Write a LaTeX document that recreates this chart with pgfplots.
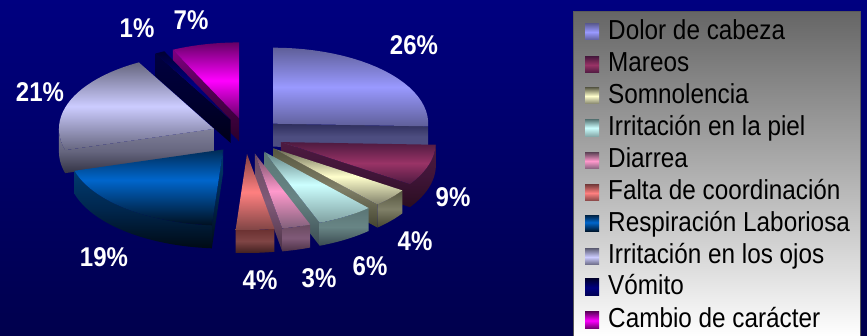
\documentclass[border=0pt]{standalone}
\usepackage{fontspec}
\setmainfont{Liberation Sans}
\usepackage{graphicx}
\usepackage{pgfplots}
\usepackage{pgfplotstable}
\pgfplotsset{compat=1.18}

% Shares of the exploded pie, clockwise from twelve o'clock
\pgfplotstableread{
share
26
9
4
6
3
4
19
21
1
7
}\sharetable

% Projection of the pie: centre, explosion, radii and wall height (px)
\def\Cx{247}\def\Cy{136}\def\Ex{36}\def\Ey{18}
\def\Ra{155}\def\Rb{76}\def\Depth{23}
\def\nsteps{24}
% Slight foreshortening of the angles towards the front of the view (degrees)
\def\Warp{3}

% Vertical shading: top, middle, bottom colour and position of the middle
\newcommand\tri[5]{%
  \definecolor{#1a}{HTML}{#2}\definecolor{#1b}{HTML}{#3}\definecolor{#1c}{HTML}{#4}%
  \pgfdeclareverticalshading{#1}{100bp}{color(0bp)=(#1c); color(25bp)=(#1c); color(#5bp)=(#1b); color(75bp)=(#1a); color(100bp)=(#1a)}}

\tri{top1}{5F5F99}{9999FF}{5F5F99}{50}
\tri{top2}{4D1A40}{993366}{4D1A40}{50}
\tri{top3}{666650}{FFFFCC}{80806A}{50}
\tri{top4}{5F7F7F}{CCFFFF}{7FA0A0}{52}
\tri{top5}{6B4A60}{FF99CC}{80607A}{50}
\tri{top6}{804040}{FF8080}{804545}{50}
\tri{top7}{002B55}{0066CC}{001020}{55}
\tri{top8}{66667F}{CCCCFF}{66667F}{50}
\tri{top9}{000033}{000080}{000050}{50}
\tri{top10}{660066}{FF00FF}{660066}{50}

\tri{side1}{2E2E5C}{4D4D80}{4D4D80}{50}
\tri{side2}{4D1A40}{401538}{2A0D20}{50}
\tri{side3}{55553F}{808068}{444430}{50}
\tri{side4}{5A7575}{688585}{3A4A50}{50}
\tri{side5}{6A4A60}{805A78}{4A3045}{50}
\tri{side6}{6A3030}{804545}{402020}{50}
\tri{side7}{003B70}{00264D}{000A14}{50}
\tri{side8}{80809A}{66667F}{333344}{50}
\tri{side9}{000040}{000030}{000018}{50}
\tri{side10}{800080}{4D004D}{2A002A}{50}

\tri{legendback}{666666}{B0B0B0}{FFFFFF}{50}
\definecolor{backtop}{HTML}{000080}
\definecolor{backbottom}{HTML}{00004D}

% Cumulative start and finish of every slice, in percent
\def\Cum{0}
\newcommand\defslice[1]{%
  \pgfmathtruncatemacro\rowidx{#1-1}%
  \pgfplotstablegetelem{\rowidx}{share}\of\sharetable
  \expandafter\xdef\csname s#1\endcsname{\Cum}%
  \pgfmathsetmacro\newcum{\Cum+\pgfplotsretval}%
  \xdef\Cum{\newcum}%
  \expandafter\xdef\csname f#1\endcsname{\Cum}}

\newcommand\startang[1]{(\csname s#1\endcsname*3.6-\Warp*(sin(\csname s#1\endcsname*1.8))^2)}
\newcommand\finishang[1]{(\csname f#1\endcsname*3.6-\Warp*(sin(\csname f#1\endcsname*1.8))^2)}

% Tip of slice #1 after the explosion along its bisector
\newcommand\apex[1]{%
  \pgfmathsetmacro\midang{(\csname s#1\endcsname+\csname f#1\endcsname)*1.8}%
  \pgfmathsetmacro\ax{\Cx+\Ex*sin(\midang)}%
  \pgfmathsetmacro\ay{\Cy-\Ey*cos(\midang)}%
  \xdef\ax{\ax}\xdef\ay{\ay}}

% Appends an arc from angle #1 to #2, lowered by #3, to the point list
\newcommand\rim[3]{%
  \pgfmathsetmacro\angA{#1}\pgfmathsetmacro\angB{#2}%
  \foreach \stp in {0,...,\nsteps}{%
    \pgfmathsetmacro\ang{\angA+(\angB-\angA)*\stp/\nsteps}%
    \pgfmathsetmacro\px{\ax+\Ra*sin(\ang)}%
    \pgfmathsetmacro\py{\ay-\Rb*cos(\ang)+#3}%
    \xdef\pts{\pts (\px,\py)}}}

\newcommand\flushpoly[1]{%
  \edef\doplot{\noexpand\addplot[draw=none,shade,shading=#1] coordinates {\pts};}\doplot}

% Upper face of slice #1
\newcommand\topface[1]{%
  \apex{#1}\xdef\pts{(\ax,\ay)}%
  \rim{\startang{#1}}{\finishang{#1}}{0}%
  \xdef\pts{\pts (\ax,\ay)}\flushpoly{top#1}}

% Cut wall of slice #1 along the edge at angle #2
\newcommand\radialwall[2]{%
  \apex{#1}\pgfmathsetmacro\wa{#2}%
  \pgfmathsetmacro\wx{\ax+\Ra*sin(\wa)}\pgfmathsetmacro\wy{\ay-\Rb*cos(\wa)}%
  \pgfmathsetmacro\wz{\wy+\Depth}\pgfmathsetmacro\az{\ay+\Depth}%
  \xdef\pts{(\ax,\ay) (\wx,\wy) (\wx,\wz) (\ax,\az) (\ax,\ay)}\flushpoly{side#1}}

% Curved outer wall of slice #1, limited to the part facing the viewer
\newcommand\curvedwall[1]{%
  \apex{#1}%
  \pgfmathsetmacro\lo{max(\startang{#1},90)}\pgfmathsetmacro\hi{min(\finishang{#1},270)}%
  \xdef\pts{}\rim{\lo}{\hi}{0}\rim{\hi}{\lo}{\Depth}\flushpoly{side#1}}

% Text set slightly taller than wide
\newcommand\tall[1]{\scalebox{1}[1.13]{#1}}

\begin{document}
\begin{tikzpicture}
\defslice{1}\defslice{2}\defslice{3}\defslice{4}\defslice{5}
\defslice{6}\defslice{7}\defslice{8}\defslice{9}\defslice{10}
\begin{axis}[
  scale only axis, width=867pt, height=336pt,
  xmin=0, xmax=867, ymin=0, ymax=336, y dir=reverse,
  axis lines=none, no markers,
  axis background/.style={top color=backtop, bottom color=backbottom},
]
% back slices first so the front ones overlap them
\radialwall{10}{\startang{10}}\topface{10}
\radialwall{9}{\startang{9}}\topface{9}
\radialwall{1}{\finishang{1}}\curvedwall{1}\topface{1}
\radialwall{8}{\startang{8}}\curvedwall{8}\topface{8}
\radialwall{2}{\finishang{2}}\curvedwall{2}\topface{2}
\radialwall{3}{\finishang{3}}\curvedwall{3}\topface{3}
\radialwall{4}{\finishang{4}}\curvedwall{4}\topface{4}
\radialwall{5}{\finishang{5}}\curvedwall{5}\topface{5}
\curvedwall{6}\topface{6}
\radialwall{7}{\startang{7}}\curvedwall{7}\topface{7}

% percentage labels
\tikzset{pct/.style={text=white,font=\fontsize{24}{24}\selectfont\bfseries,anchor=center,inner sep=0pt}}
\node[pct] at (axis cs:414,45) {\tall{26\%}};
\node[pct] at (axis cs:453,197) {\tall{9\%}};
\node[pct] at (axis cs:415,241) {\tall{4\%}};
\node[pct] at (axis cs:370,266) {\tall{6\%}};
\node[pct] at (axis cs:319,278) {\tall{3\%}};
\node[pct] at (axis cs:260,280) {\tall{4\%}};
\node[pct] at (axis cs:104,257) {\tall{19\%}};
\node[pct] at (axis cs:40,92) {\tall{21\%}};
\node[pct] at (axis cs:137,28) {\tall{1\%}};
\node[pct] at (axis cs:191,20) {\tall{7\%}};

% legend panel
\addplot[draw=black!65,line width=1pt,shade,shading=legendback] coordinates {(573,12) (860,12) (860,337) (573,337) (573,12)};
\tikzset{leg/.style={text=black,anchor=base west,inner sep=0pt,font=\fontsize{24.3}{24}\selectfont}}
\addplot[draw=none,shade,shading=top1] coordinates {(585,24) (599,24) (599,40) (585,40) (585,24)};
\addplot[draw=none,shade,shading=top2] coordinates {(585,57) (599,57) (599,73) (585,73) (585,57)};
\addplot[draw=none,shade,shading=top3] coordinates {(585,88) (599,88) (599,104) (585,104) (585,88)};
\addplot[draw=none,shade,shading=top4] coordinates {(585,120) (599,120) (599,137) (585,137) (585,120)};
\addplot[draw=none,shade,shading=top5] coordinates {(585,153) (599,153) (599,169) (585,169) (585,153)};
\addplot[draw=none,shade,shading=top6] coordinates {(585,185) (599,185) (599,201) (585,201) (585,185)};
\addplot[draw=none,shade,shading=top7] coordinates {(585,216) (599,216) (599,232) (585,232) (585,216)};
\addplot[draw=none,shade,shading=top8] coordinates {(585,249) (599,249) (599,265) (585,265) (585,249)};
\addplot[draw=none,shade,shading=top9] coordinates {(585,279) (599,279) (599,296) (585,296) (585,279)};
\addplot[draw=none,shade,shading=top10] coordinates {(585,312) (599,312) (599,329) (585,329) (585,312)};
\node[leg] at (axis cs:608,40) {\tall{Dolor de cabeza}};
\node[leg] at (axis cs:608,72) {\tall{Mareos}};
\node[leg] at (axis cs:608,104) {\tall{Somnolencia}};
\node[leg] at (axis cs:608,136) {\tall{Irritación en la piel}};
\node[leg] at (axis cs:608,168) {\tall{Diarrea}};
\node[leg] at (axis cs:608,200) {\tall{Falta de coordinación}};
\node[leg] at (axis cs:608,232) {\tall{Respiración Laboriosa}};
\node[leg] at (axis cs:608,264) {\tall{Irritación en los ojos}};
\node[leg] at (axis cs:608,295) {\tall{Vómito}};
\node[leg] at (axis cs:608,327) {\tall{Cambio de carácter}};
\end{axis}
\end{tikzpicture}
\end{document}
